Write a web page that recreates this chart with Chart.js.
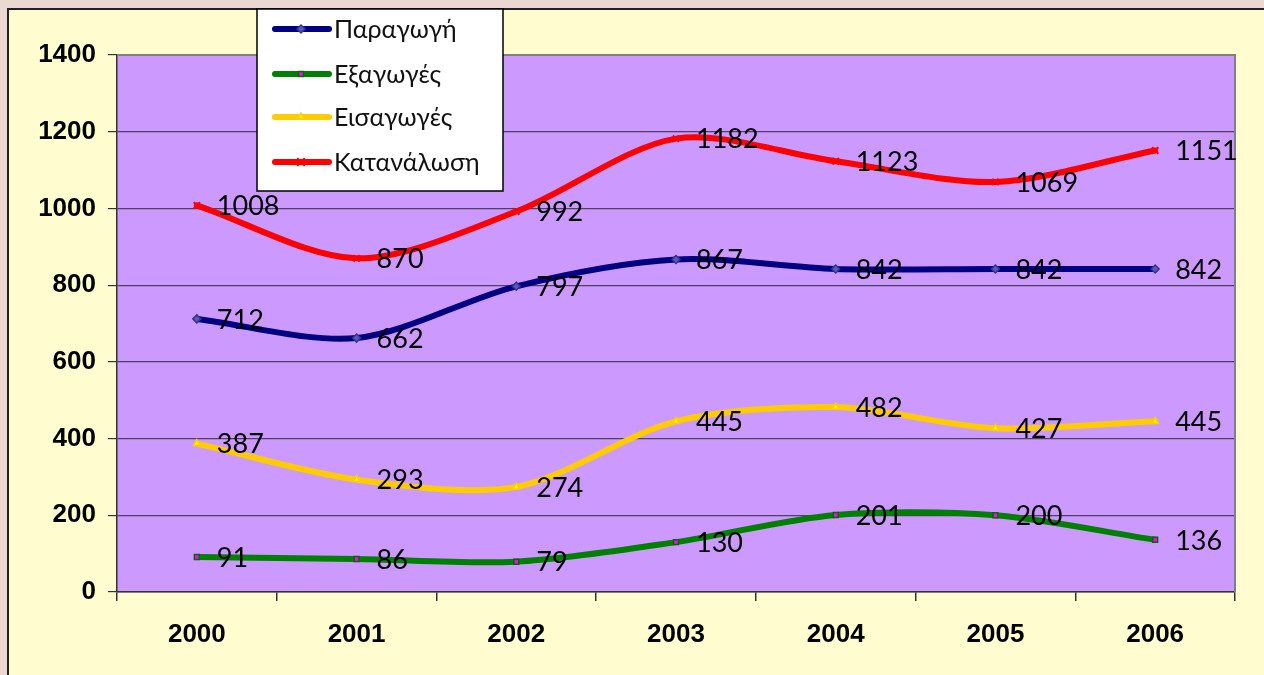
<!DOCTYPE html>
<html lang="el">
<head>
    <meta charset="UTF-8">
    <title>Παραγωγή, Εξαγωγές, Εισαγωγές, Κατανάλωση 2000-2006</title>
    <style>
        html, body {
            margin: 0;
            padding: 0;
            background-color: #ecd8d2;
        }
        .wrap {
            width: 1264px;
            height: 675px;
        }
    </style>
</head>
<body>
    <div class="wrap">
        <canvas id="chart" width="1264" height="675"></canvas>
    </div>

    <script src="https://cdn.jsdelivr.net/npm/chart.js"></script>
    <script>
        // Data
        const years = ['2000', '2001', '2002', '2003', '2004', '2005', '2006'];
        const production = [712, 662, 797, 867, 842, 842, 842];
        const exportsData = [91, 86, 79, 130, 201, 200, 136];
        const importsData = [387, 293, 274, 445, 482, 427, 445];
        const consumption = [1008, 870, 992, 1182, 1123, 1069, 1151];
        const seriesNames = ['Παραγωγή', 'Εξαγωγές', 'Εισαγωγές', 'Κατανάλωση'];
        const yTicks = { min: 0, max: 1400, step: 200 };

        const labelFont = "27px 'Lato', 'DejaVu Sans', sans-serif";
        const legendFont = "25px 'Lato', 'Open Sans', 'DejaVu Sans', sans-serif";
        const axisFont = { family: "'Liberation Sans', Arial, sans-serif", size: 26, weight: 'bold' };

        // Background: pink page, yellow chart box, purple plot area
        const backgroundPlugin = {
            id: 'background',
            beforeDraw(chart) {
                const ctx = chart.ctx;
                const a = chart.chartArea;
                ctx.save();
                ctx.fillStyle = '#ecd8d2';
                ctx.fillRect(0, 0, chart.width, chart.height);
                ctx.fillStyle = '#fffdd0';
                ctx.fillRect(8, 9, chart.width, chart.height);
                ctx.strokeStyle = '#222';
                ctx.lineWidth = 2;
                ctx.beginPath();
                ctx.moveTo(8, chart.height + 2);
                ctx.lineTo(8, 9);
                ctx.lineTo(chart.width + 2, 9);
                ctx.stroke();
                ctx.fillStyle = '#cc99ff';
                ctx.fillRect(a.left, a.top, a.right - a.left, a.bottom - a.top);
                ctx.restore();
            },
            beforeDatasetsDraw(chart) {
                const ctx = chart.ctx;
                const a = chart.chartArea;
                ctx.save();
                ctx.strokeStyle = '#808080';
                ctx.lineWidth = 2;
                ctx.beginPath();
                ctx.moveTo(a.left, a.top);
                ctx.lineTo(a.right, a.top);
                ctx.lineTo(a.right, a.bottom);
                ctx.stroke();
                ctx.restore();
            }
        };

        // Value labels to the right of each point
        const valueLabels = {
            id: 'valueLabels',
            afterDatasetsDraw(chart) {
                const ctx = chart.ctx;
                ctx.save();
                ctx.font = labelFont;
                ctx.fillStyle = '#000';
                ctx.textAlign = 'left';
                ctx.textBaseline = 'middle';
                chart.data.datasets.forEach((ds, i) => {
                    chart.getDatasetMeta(i).data.forEach((pt, j) => {
                        ctx.fillText(String(ds.data[j]), pt.x + 20, pt.y + 1);
                    });
                });
                ctx.restore();
            }
        };

        // Legend box overlapping the top of the plot, as in the original
        const legendBox = {
            id: 'legendBox',
            afterDraw(chart) {
                const ctx = chart.ctx;
                const x = 257, y = 9, w = 246, h = 182;
                ctx.save();
                ctx.fillStyle = '#fff';
                ctx.fillRect(x, y, w, h);
                ctx.strokeStyle = '#000';
                ctx.lineWidth = 1.5;
                ctx.strokeRect(x, y, w, h);
                const rows = [29, 74, 117, 162];
                chart.data.datasets.forEach((ds, i) => {
                    const ry = rows[i];
                    ctx.strokeStyle = ds.borderColor;
                    ctx.lineWidth = 6;
                    ctx.lineCap = 'round';
                    ctx.beginPath();
                    ctx.moveTo(275, ry);
                    ctx.lineTo(329, ry);
                    ctx.stroke();
                    ctx.fillStyle = ds.pointBackgroundColor;
                    ctx.strokeStyle = ds.pointBorderColor;
                    ctx.lineWidth = ds.pointBorderWidth;
                    Chart.helpers.drawPoint(ctx, {
                        pointStyle: ds.pointStyle,
                        radius: ds.pointRadius,
                        borderWidth: ds.pointBorderWidth
                    }, 301, ry);
                    ctx.fillStyle = '#111';
                    ctx.font = legendFont;
                    ctx.textBaseline = 'middle';
                    ctx.fillText(ds.label, 334, ry + 1);
                });
                ctx.restore();
            }
        };

        const ctx = document.getElementById('chart').getContext('2d');
        const chart = new Chart(ctx, {
            type: 'line',
            data: {
                labels: years,
                datasets: [
                    {
                        label: seriesNames[0],
                        data: production,
                        borderColor: '#000080',
                        pointStyle: 'rectRot',
                        pointRadius: 4,
                        pointBackgroundColor: '#5a5ab0',
                        pointBorderColor: '#333399',
                        pointBorderWidth: 1.5
                    },
                    {
                        label: seriesNames[1],
                        data: exportsData,
                        borderColor: '#008000',
                        pointStyle: 'rect',
                        pointRadius: 3.5,
                        pointBackgroundColor: '#ff00ff',
                        pointBorderColor: '#006600',
                        pointBorderWidth: 1.5
                    },
                    {
                        label: seriesNames[2],
                        data: importsData,
                        borderColor: '#ffcc00',
                        pointStyle: 'triangle',
                        pointRadius: 4,
                        pointBackgroundColor: '#ffff00',
                        pointBorderColor: '#ffcc00',
                        pointBorderWidth: 1.5
                    },
                    {
                        label: seriesNames[3],
                        data: consumption,
                        borderColor: '#ff0000',
                        pointStyle: 'crossRot',
                        pointRadius: 4.5,
                        pointBackgroundColor: '#ff0000',
                        pointBorderColor: '#ff0000',
                        pointBorderWidth: 2
                    }
                ].map(ds => Object.assign(ds, {
                    borderWidth: 6,
                    tension: 0.3,
                    fill: false,
                    borderCapStyle: 'round',
                    borderJoinStyle: 'round'
                }))
            },
            options: {
                responsive: false,
                animation: false,
                layout: {
                    padding: { left: 0, top: 55, right: 29, bottom: 0 }
                },
                plugins: {
                    legend: { display: false },
                    tooltip: { enabled: false }
                },
                scales: {
                    x: {
                        offset: true,
                        grid: {
                            offset: true,
                            drawOnChartArea: false,
                            drawTicks: true,
                            tickLength: 9,
                            tickColor: '#333',
                            lineWidth: 1.5
                        },
                        border: { color: '#333', width: 1.5 },
                        ticks: {
                            color: '#000',
                            padding: 18,
                            font: axisFont
                        },
                        afterFit(scale) { scale.height = 83; }
                    },
                    y: {
                        min: yTicks.min,
                        max: yTicks.max,
                        grid: {
                            color: '#4d4060',
                            lineWidth: 1.2,
                            drawTicks: true,
                            tickLength: 9,
                            tickColor: '#333'
                        },
                        border: { color: '#333', width: 1.5 },
                        ticks: {
                            stepSize: yTicks.step,
                            color: '#000',
                            padding: 12,
                            font: axisFont,
                            callback: value => String(value)
                        },
                        afterFit(scale) { scale.width = 117; }
                    }
                }
            },
            plugins: [backgroundPlugin, valueLabels, legendBox]
        });
    </script>
</body>
</html>
